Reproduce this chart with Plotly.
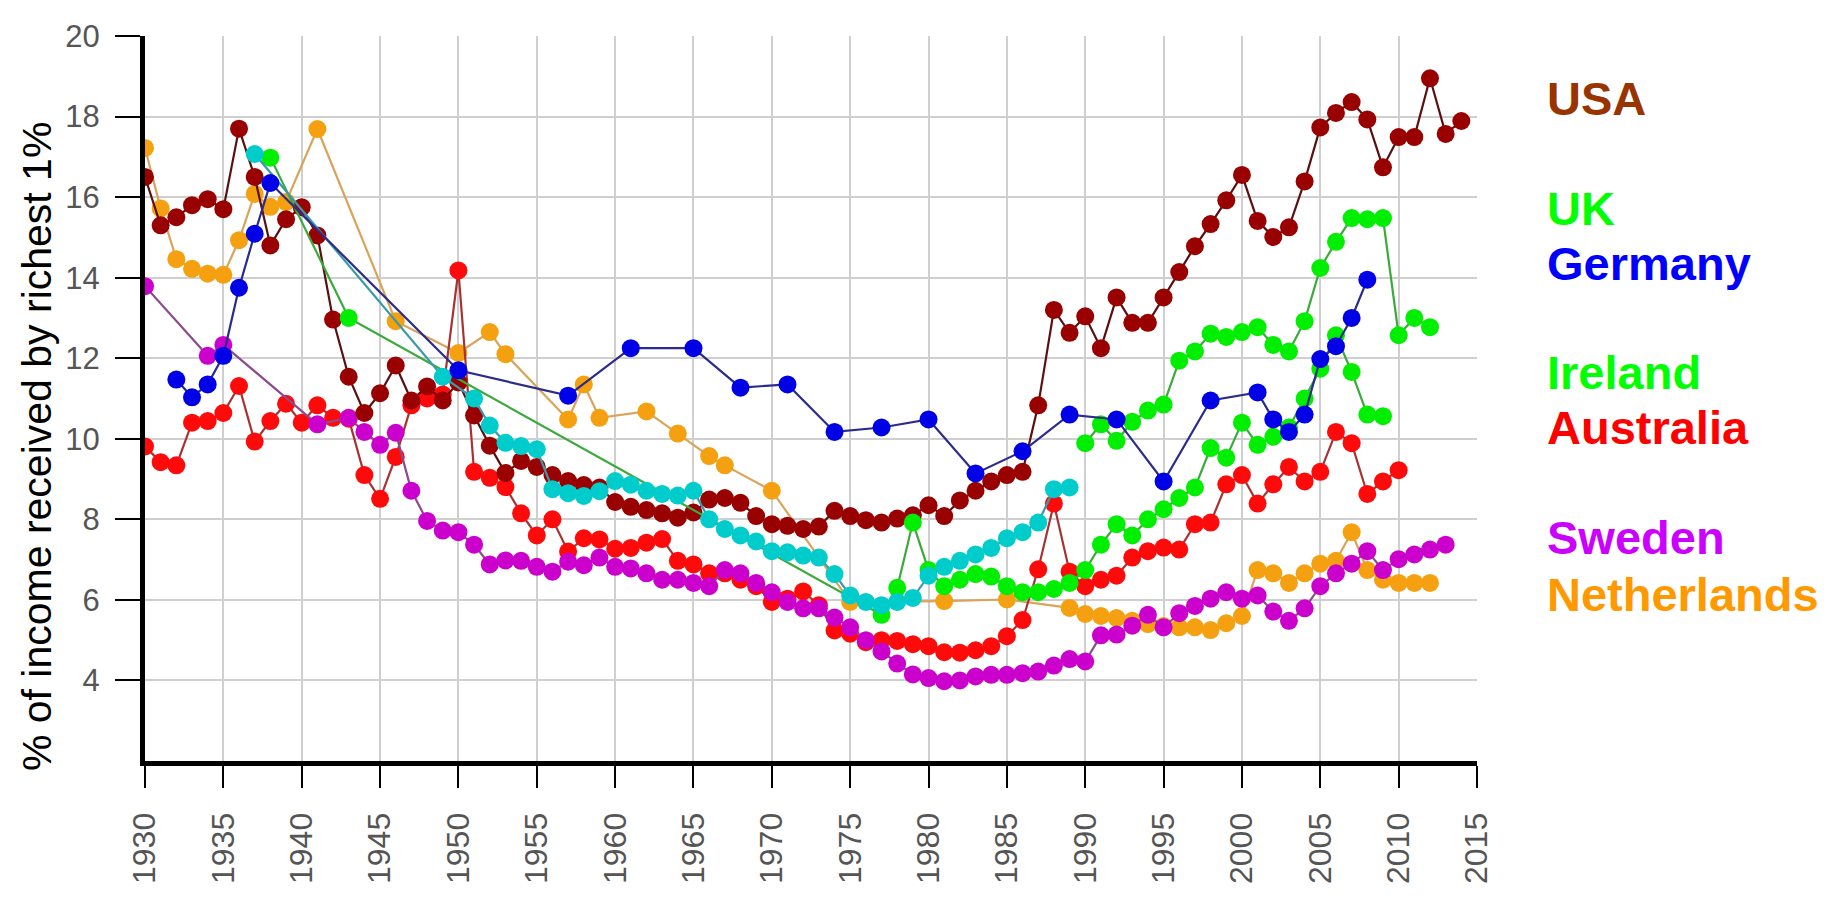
import plotly.graph_objects as go

# ---------------- data ----------------
usa_years = list(range(1930, 2015))
usa_vals = [16.5, 15.3, 15.5, 15.8, 15.95, 15.7, 17.7, 16.5, 14.8, 15.45,
            15.75, 15.05, 12.96, 11.54, 10.64, 11.13, 11.82, 10.95, 11.3, 10.95,
            11.4, 10.58, 9.83, 9.15, 9.45, 9.3, 9.1, 8.95, 8.85, 8.79,
            8.43, 8.31, 8.23, 8.15, 8.04, 8.17, 8.49, 8.53, 8.41, 8.08,
            7.88, 7.84, 7.76, 7.82, 8.21, 8.08, 7.98, 7.92, 8.02, 8.1,
            8.35, 8.08, 8.47, 8.71, 8.94, 9.1, 9.18, 10.83, 13.2, 12.63,
            13.04, 12.25, 13.51, 12.88, 12.88, 13.51, 14.14, 14.78, 15.33, 15.92,
            16.55, 15.41, 15.01, 15.25, 16.39, 17.73, 18.09, 18.36, 17.93, 16.74,
            17.49, 17.49, 18.95, 17.57, 17.89]

germany_years = [1932, 1933, 1934, 1935, 1936, 1937, 1938, 1950, 1957, 1961,
                 1965, 1968, 1971, 1974, 1977, 1980, 1983, 1986, 1989, 1992,
                 1995, 1998, 2001, 2002, 2003, 2004, 2005, 2006, 2007, 2008]
germany_vals = [11.47, 11.03, 11.35, 12.06, 13.75, 15.09, 16.35, 11.7, 11.07, 12.25,
                12.25, 11.27, 11.35, 10.17, 10.28, 10.48, 9.14, 9.69, 10.6, 10.48,
                8.94, 10.95, 11.15, 10.48, 10.17, 10.6, 11.98, 12.3, 13.0, 13.95]

nl_years = [1930, 1931, 1932, 1933, 1934, 1935, 1936, 1937, 1938, 1939,
            1941, 1946, 1950, 1952, 1953, 1957, 1958, 1959, 1962, 1964,
            1966, 1967, 1970, 1975, 1981, 1985, 1989, 1990, 1991, 1992,
            1993, 1994, 1995, 1996, 1997, 1998, 1999, 2000, 2001, 2002,
            2003, 2004, 2005, 2006, 2007, 2008, 2009, 2010, 2011, 2012]
nl_vals = [17.22, 15.72, 14.46, 14.22, 14.1, 14.07, 14.93, 16.08, 15.76, 15.88,
           17.69, 12.92, 12.13, 12.65, 12.1, 10.48, 11.35, 10.52, 10.68, 10.13,
           9.57, 9.34, 8.71, 5.95, 5.97, 6.01, 5.8, 5.65, 5.6, 5.55,
           5.48, 5.4, 5.35, 5.32, 5.32, 5.25, 5.42, 5.6, 6.74, 6.66,
           6.42, 6.66, 6.9, 6.97, 7.68, 6.74, 6.5, 6.42, 6.42, 6.42]

aus_years = list(range(1930, 2011))
aus_vals = [9.81, 9.42, 9.34, 10.4, 10.44, 10.64, 11.31, 9.93, 10.44, 10.87,
            10.4, 10.83, 10.52, 10.5, 9.1, 8.51, 9.55, 10.83, 11.0, 11.1,
            14.18, 9.18, 9.03, 8.8, 8.15, 7.6, 8.0, 7.2, 7.53, 7.5,
            7.27, 7.29, 7.42, 7.51, 6.97, 6.88, 6.66, 6.66, 6.5, 6.34,
            5.95, 6.03, 6.21, 5.87, 5.24, 5.16, 4.95, 5.0, 4.98, 4.9,
            4.85, 4.7, 4.69, 4.75, 4.85, 5.1, 5.5, 6.76, 8.39, 6.7,
            6.34, 6.5, 6.6, 7.05, 7.21, 7.3, 7.25, 7.88, 7.92, 8.87,
            9.1, 8.39, 8.87, 9.3, 8.94, 9.18, 10.17, 9.89, 8.63, 8.94,
            9.22]

sweden_years = [1930, 1934, 1935, 1941] + list(range(1943, 2014))
sweden_vals = [13.79, 12.06, 12.33, 10.36,
               10.52, 10.17, 9.85, 10.15, 8.71, 7.96, 7.72,
               7.68, 7.37, 6.88, 6.98, 6.97, 6.82, 6.7, 6.95, 6.86, 7.05,
               6.82, 6.78, 6.66, 6.5, 6.5, 6.42, 6.34, 6.74, 6.66, 6.42,
               6.19, 5.95, 5.79, 5.79, 5.56, 5.32, 5.0, 4.72, 4.42, 4.15,
               4.06, 3.98, 4.0, 4.1, 4.14, 4.14, 4.18, 4.22, 4.37, 4.53,
               4.47, 5.12, 5.14, 5.36, 5.63, 5.32, 5.67, 5.85, 6.03, 6.19,
               6.03, 6.11, 5.71, 5.48, 5.79, 6.34, 6.66, 6.9, 7.21, 6.74,
               7.01, 7.13, 7.25, 7.37]

uk_early_years = [1937, 1949] + list(range(1951, 1990))
uk_early_vals = [17.07, 11.54,
                 11.0, 10.33, 9.9, 9.82, 9.74, 8.75, 8.65, 8.58, 8.7,
                 8.95, 8.86, 8.71, 8.63, 8.59, 8.71, 8.0, 7.76, 7.6, 7.45,
                 7.21, 7.18, 7.1, 7.05, 6.64, 6.11, 5.95, 5.87, 5.95, 6.05,
                 6.6, 6.82, 6.97, 7.13, 7.29, 7.53, 7.68, 7.92, 8.75, 8.79]

uk_years = list(range(1990, 2013))
uk_vals = [9.89, 10.36, 9.95, 10.42, 10.7, 10.85, 11.94, 12.17, 12.61, 12.53,
           12.65, 12.77, 12.33, 12.17, 12.92, 14.24, 14.89, 15.48, 15.45, 15.48,
           12.57, 13.0, 12.77]

ireland_years = [1938, 1943] + list(range(1977, 2010))
ireland_vals = [16.98, 13.0,
                5.63, 6.3, 7.92, 6.74, 6.34, 6.5, 6.64, 6.58, 6.34, 6.19,
                6.19, 6.27, 6.42, 6.74, 7.37, 7.88, 7.6, 8.0, 8.25, 8.53,
                8.79, 9.77, 9.53, 10.4, 9.85, 10.05, 10.28, 11.0, 11.74, 12.57,
                11.66, 10.6, 10.56]

x_ticks = list(range(1930, 2016, 5))
y_ticks = list(range(4, 21, 2))

labels = ["USA", "UK", "Germany", "Ireland", "Australia", "Sweden", "Netherlands"]
label_colors = ["#993300", "#00ff00", "#0000ff", "#00ff00", "#ff0000", "#cc00ff", "#ff9900"]
label_y = [18.44, 15.72, 14.35, 11.65, 10.28, 7.54, 6.14]

# ---------------- figure ----------------
fig = go.Figure()

def add(years, vals, name, mcol, lcol):
    fig.add_trace(go.Scatter(
        x=years, y=vals, name=name, mode="lines+markers",
        line=dict(color=lcol, width=2.2),
        marker=dict(color=mcol, size=18, line=dict(width=0)),
        showlegend=False, hoverinfo="x+y+name"))

add(nl_years, nl_vals, "Netherlands", "#f5a010", "#d9a45a")
add(aus_years, aus_vals, "Australia", "#ff0a0a", "#a83232")
add(sweden_years, sweden_vals, "Sweden", "#cc00cc", "#8c4a8c")
add(usa_years, usa_vals, "USA", "#990000", "#5a1010")
add(ireland_years, ireland_vals, "Ireland", "#00ee00", "#3aaa3a")
add(uk_early_years, uk_early_vals, "UK (to 1989)", "#00cccc", "#3a9aaa")
add(uk_years, uk_vals, "UK", "#00ee00", "#3aaa3a")
add(germany_years, germany_vals, "Germany", "#0000e6", "#2b2b8c")

# page body has an 8px margin, so the figure is laid out 8px smaller
W, H = 1827, 887
PL, PT = 137, 11
PR = W - 1469
PB = H - 772
pw = W - PL - PR

annotations = []
for lab, col, yv in zip(labels, label_colors, label_y):
    annotations.append(dict(
        text=lab, x=(1537 - PL) / pw, xref="paper", y=yv, yref="y",
        xanchor="left", yanchor="middle", showarrow=False,
        font=dict(family="Liberation Sans, Arial, sans-serif", size=47,
                  color=col, weight="bold")))

annotations.append(dict(
    text="% of income received by richest 1%", textangle=-90,
    x=(29 - PL) / pw, xref="paper", y=0.433, yref="paper",
    xanchor="center", yanchor="middle", showarrow=False,
    font=dict(family="Liberation Sans, Arial, sans-serif", size=41, color="black")))

fig.update_layout(
    width=W, height=H,
    margin=dict(l=PL, r=PR, t=PT, b=PB, pad=0),
    paper_bgcolor="white", plot_bgcolor="white",
    annotations=annotations,
    font=dict(family="Liberation Sans, Arial, sans-serif"),
)

fig.update_xaxes(
    range=[1930, 2015], tickmode="array", tickvals=x_ticks,
    ticktext=[str(v) for v in x_ticks], tickangle=-90,
    showgrid=True, gridcolor="#cfcfcf", gridwidth=2,
    showline=True, linecolor="black", linewidth=5,
    ticks="outside", ticklen=22, tickwidth=2, tickcolor="black",
    ticklabelstandoff=12, ticklabeloverflow="allow",
    tickfont=dict(size=32, color="#555555"), zeroline=False)

fig.update_yaxes(
    range=[2, 20], tickmode="array", tickvals=y_ticks,
    ticktext=[str(v) for v in y_ticks],
    showgrid=True, gridcolor="#cfcfcf", gridwidth=2,
    showline=True, linecolor="black", linewidth=5,
    ticks="outside", ticklen=25, tickwidth=2, tickcolor="black",
    ticklabelstandoff=9, ticklabeloverflow="allow",
    tickfont=dict(size=31, color="#555555"), zeroline=False)

fig.write_html("out.html")
